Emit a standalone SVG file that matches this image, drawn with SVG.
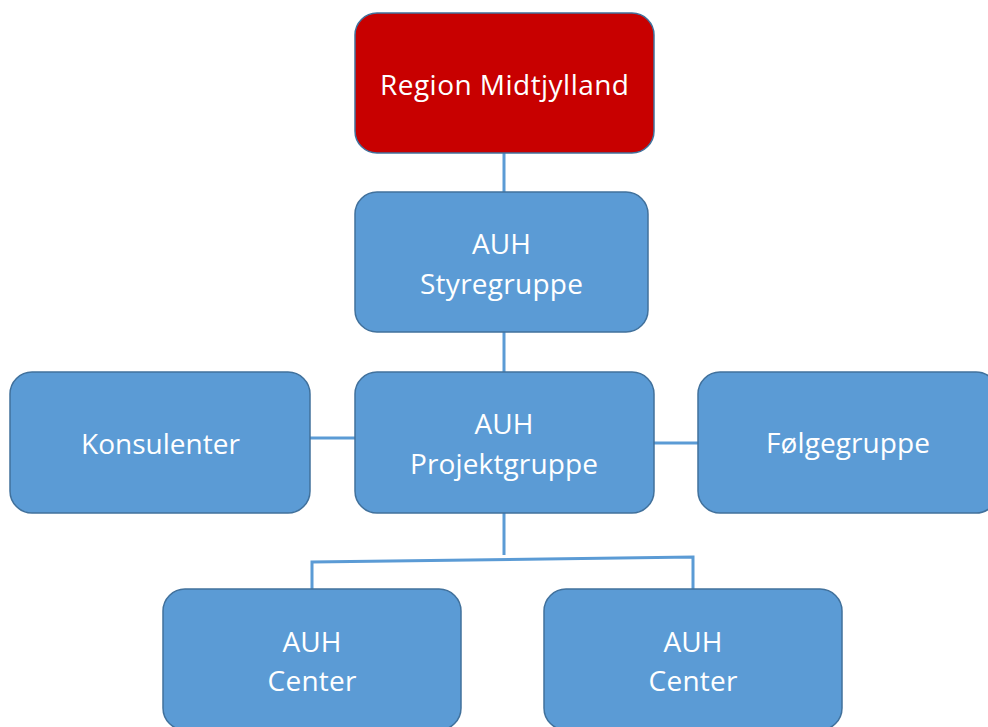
<svg xmlns="http://www.w3.org/2000/svg" width="988" height="727" viewBox="0 0 988 727">
<style>
.box{fill:#5B9BD5;stroke:#41719C;stroke-width:1.5}
.red{fill:#C80000;stroke:#41719C;stroke-width:1.5}
.t{font-family:"Open Sans","Noto Sans",sans-serif;font-size:28px;fill:#FFFFFF;text-anchor:middle}
.c{fill:none;stroke:#5B9BD5;stroke-width:3}
</style>
<rect width="988" height="727" fill="#FFFFFF"/>
<g id="connectors">
<line class="c" x1="504" y1="153" x2="504" y2="192"/>
<line class="c" x1="504" y1="332" x2="504" y2="372"/>
<line class="c" x1="310" y1="438" x2="355" y2="438"/>
<line class="c" x1="654" y1="443" x2="698" y2="443"/>
<line class="c" x1="504" y1="513" x2="504" y2="555"/>
<polyline class="c" points="312,590 312,562 693,557 693,590"/>
</g>
<g id="region">
<rect class="red" x="355" y="13" width="299" height="140" rx="22"/>
<text class="t" x="504.5" y="95" textLength="249">Region Midtjylland</text>
</g>
<g id="styregruppe">
<rect class="box" x="355" y="192" width="293" height="140" rx="22"/>
<text class="t" x="501.5" y="254" textLength="59">AUH</text>
<text class="t" x="501.5" y="294" textLength="163">Styregruppe</text>
</g>
<g id="projektgruppe">
<rect class="box" x="355" y="372" width="299" height="141" rx="22"/>
<text class="t" x="504" y="434" textLength="59">AUH</text>
<text class="t" x="504" y="474" textLength="188">Projektgruppe</text>
</g>
<g id="konsulenter">
<rect class="box" x="10" y="372" width="300" height="141" rx="22"/>
<text class="t" x="160.5" y="454" textLength="159">Konsulenter</text>
</g>
<g id="folgegruppe">
<rect class="box" x="698" y="372" width="300" height="141" rx="22"/>
<text class="t" x="848" y="453" textLength="164">Følgegruppe</text>
</g>
<g id="center1">
<rect class="box" x="163" y="589" width="298" height="141" rx="22"/>
<text class="t" x="312" y="652" textLength="59">AUH</text>
<text class="t" x="312" y="691" textLength="89">Center</text>
</g>
<g id="center2">
<rect class="box" x="544" y="589" width="298" height="141" rx="22"/>
<text class="t" x="693" y="652" textLength="59">AUH</text>
<text class="t" x="693" y="691" textLength="89">Center</text>
</g>
</svg>
